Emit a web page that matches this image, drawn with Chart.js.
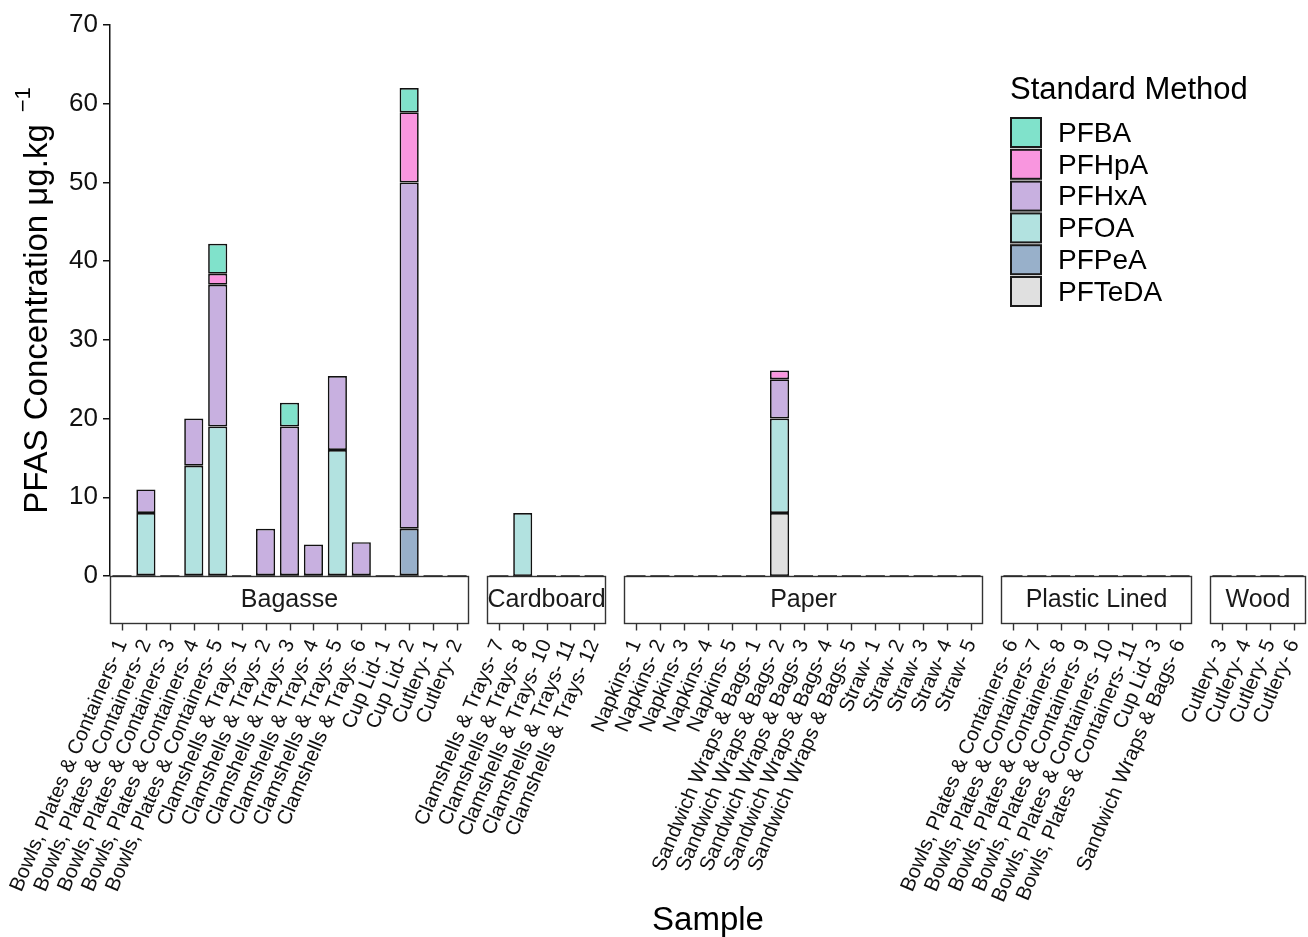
<!DOCTYPE html>
<html>
<head>
<meta charset="utf-8">
<title>PFAS concentration by sample</title>
<script src="https://cdn.jsdelivr.net/npm/chart.js@4.4.1/dist/chart.umd.min.js"></script>
<style>
  html, body { margin: 0; padding: 0; background: #ffffff; }
  #wrap { position: relative; width: 1308px; height: 937px; overflow: hidden; background: #ffffff; }
  #wrap canvas { position: absolute; left: 0; top: 0; pointer-events: none; }
</style>
</head>
<body>
<div id="wrap"></div>
<script>
// ---- data -------------------------------------------------------------
const materials = ['Bagasse', 'Cardboard', 'Paper', 'Plastic Lined', 'Wood'];

const bagasseSamples = [
  'Bowls, Plates & Containers- 1', 'Bowls, Plates & Containers- 2', 'Bowls, Plates & Containers- 3',
  'Bowls, Plates & Containers- 4', 'Bowls, Plates & Containers- 5',
  'Clamshells & Trays- 1', 'Clamshells & Trays- 2', 'Clamshells & Trays- 3',
  'Clamshells & Trays- 4', 'Clamshells & Trays- 5', 'Clamshells & Trays- 6',
  'Cup Lid- 1', 'Cup Lid- 2', 'Cutlery- 1', 'Cutlery- 2'
];
const cardboardSamples = [
  'Clamshells & Trays- 7', 'Clamshells & Trays- 8', 'Clamshells & Trays- 10',
  'Clamshells & Trays- 11', 'Clamshells & Trays- 12'
];
const paperSamples = [
  'Napkins- 1', 'Napkins- 2', 'Napkins- 3', 'Napkins- 4', 'Napkins- 5',
  'Sandwich Wraps & Bags- 1', 'Sandwich Wraps & Bags- 2', 'Sandwich Wraps & Bags- 3',
  'Sandwich Wraps & Bags- 4', 'Sandwich Wraps & Bags- 5',
  'Straw- 1', 'Straw- 2', 'Straw- 3', 'Straw- 4', 'Straw- 5'
];
const plasticLinedSamples = [
  'Bowls, Plates & Containers- 6', 'Bowls, Plates & Containers- 7', 'Bowls, Plates & Containers- 8',
  'Bowls, Plates & Containers- 9', 'Bowls, Plates & Containers- 10', 'Bowls, Plates & Containers- 11',
  'Cup Lid- 3', 'Sandwich Wraps & Bags- 6'
];
const woodSamples = ['Cutlery- 3', 'Cutlery- 4', 'Cutlery- 5', 'Cutlery- 6'];

// Concentrations (µg/kg), one value per sample in the order
// Bagasse | Cardboard | Paper | Plastic Lined | Wood
const PFBA = [
  0, 0, 0, 0, 3.8, 0, 0, 3, 0, 0, 0, 0, 3.1, 0, 0,
  0, 0, 0, 0, 0,
  0, 0, 0, 0, 0, 0, 0, 0, 0, 0, 0, 0, 0, 0, 0,
  0, 0, 0, 0, 0, 0, 0, 0,
  0, 0, 0, 0
];
const PFHpA = [
  0, 0, 0, 0, 1.4, 0, 0, 0, 0, 0, 0, 0, 8.9, 0, 0,
  0, 0, 0, 0, 0,
  0, 0, 0, 0, 0, 0, 1.1, 0, 0, 0, 0, 0, 0, 0, 0,
  0, 0, 0, 0, 0, 0, 0, 0,
  0, 0, 0, 0
];
const PFHxA = [
  0, 3, 0, 6, 18, 0, 6, 19, 4, 9.4, 4.3, 0, 44, 0, 0,
  0, 0, 0, 0, 0,
  0, 0, 0, 0, 0, 0, 5, 0, 0, 0, 0, 0, 0, 0, 0,
  0, 0, 0, 0, 0, 0, 0, 0,
  0, 0, 0, 0
];
const PFOA = [
  0, 8, 0, 14, 19, 0, 0, 0, 0, 16, 0, 0, 0, 0, 0,
  0, 8, 0, 0, 0,
  0, 0, 0, 0, 0, 0, 12, 0, 0, 0, 0, 0, 0, 0, 0,
  0, 0, 0, 0, 0, 0, 0, 0,
  0, 0, 0, 0
];
const PFPeA = [
  0, 0, 0, 0, 0, 0, 0, 0, 0, 0, 0, 0, 6, 0, 0,
  0, 0, 0, 0, 0,
  0, 0, 0, 0, 0, 0, 0, 0, 0, 0, 0, 0, 0, 0, 0,
  0, 0, 0, 0, 0, 0, 0, 0,
  0, 0, 0, 0
];
const PFTeDA = [
  0, 0, 0, 0, 0, 0, 0, 0, 0, 0, 0, 0, 0, 0, 0,
  0, 0, 0, 0, 0,
  0, 0, 0, 0, 0, 0, 8, 0, 0, 0, 0, 0, 0, 0, 0,
  0, 0, 0, 0, 0, 0, 0, 0,
  0, 0, 0, 0
];

const compoundNames = ['PFBA', 'PFHpA', 'PFHxA', 'PFOA', 'PFPeA', 'PFTeDA'];
const compoundValues = [PFBA, PFHpA, PFHxA, PFOA, PFPeA, PFTeDA];
const compoundColors = ['#80E2CB', '#F996DF', '#C8B0E0', '#B2E2E0', '#98B0CA', '#E0E0E0'];

const yTicks = [0, 10, 20, 30, 40, 50, 60, 70];

// ---- layout -----------------------------------------------------------
const W = 1308, H = 937;
const FONT = '"Liberation Sans", Arial, Helvetica, sans-serif';
const PLOT_TOP = 25, PLOT_BOTTOM = 576;
const STRIP_H = 47;
const BAR_FRACTION = 0.8;
const panelEdges = [[110, 469], [487, 606], [624, 983], [1001, 1192], [1210, 1306]];
const sampleGroups = [bagasseSamples, cardboardSamples, paperSamples, plasticLinedSamples, woodSamples];

// Facet strip, x tick marks and the outlines of empty bars
const facetStrip = {
  id: 'facetStrip',
  afterDraw(chart, args, opts) {
    const { ctx, chartArea: ca, scales } = chart;
    const x = scales.x;
    const top = ca.bottom;
    const n = chart.data.labels.length;
    ctx.save();
    // strip box
    ctx.fillStyle = '#ffffff';
    ctx.fillRect(ca.left, top, ca.right - ca.left, STRIP_H);
    ctx.strokeStyle = '#333333';
    ctx.lineWidth = 1.4;
    ctx.strokeRect(ca.left + 0.5, top + 0.5, ca.right - ca.left - 1, STRIP_H);
    ctx.fillStyle = '#1a1a1a';
    ctx.font = '25px ' + FONT;
    ctx.textAlign = 'center';
    ctx.textBaseline = 'middle';
    ctx.fillText(opts.title, (ca.left + ca.right) / 2, top + STRIP_H / 2 + 1);
    // tick marks under the strip
    ctx.strokeStyle = '#333333';
    ctx.lineWidth = 1.4;
    x.ticks.forEach((t, i) => {
      const px = Math.round(x.getPixelForTick(i)) + 0.5;
      ctx.beginPath();
      ctx.moveTo(px, top + STRIP_H + 0.5);
      ctx.lineTo(px, top + STRIP_H + 7.5);
      ctx.stroke();
    });
    // samples with nothing detected show as a flat outline at the baseline
    const y0 = chart.scales.y.getPixelForValue(0);
    const half = (ca.right - ca.left) / n * BAR_FRACTION / 2;
    ctx.strokeStyle = '#2a2a2a';
    ctx.lineWidth = 1.6;
    for (let i = 0; i < n; i++) {
      const cx = x.getPixelForValue(i);
      ctx.beginPath();
      ctx.moveTo(cx - half, y0);
      ctx.lineTo(cx + half, y0);
      ctx.stroke();
    }
    ctx.restore();
  }
};

// Axis titles and the legend, drawn once on the first panel's canvas
const frameDecor = {
  id: 'frameDecor',
  afterDraw(chart) {
    const ctx = chart.ctx;
    ctx.save();
    ctx.fillStyle = '#000000';
    // y axis title with superscript unit exponent
    const main = 'PFAS Concentration μg.kg';
    const sup = '−1';
    ctx.font = '33px ' + FONT;
    const wMain = ctx.measureText(main).width;
    ctx.font = '22px ' + FONT;
    const wSup = ctx.measureText(sup).width;
    const gap = 12;
    const total = wMain + gap + wSup;
    const centerY = (PLOT_TOP + PLOT_BOTTOM) / 2;
    ctx.translate(47, centerY + total / 2);
    ctx.rotate(-Math.PI / 2);
    ctx.textAlign = 'left';
    ctx.textBaseline = 'alphabetic';
    ctx.font = '33px ' + FONT;
    ctx.fillText(main, 0, 0);
    ctx.font = '22px ' + FONT;
    ctx.fillText(sup, wMain + gap, -17);
    ctx.setTransform(1, 0, 0, 1, 0, 0);

    // x axis title
    ctx.font = '33px ' + FONT;
    ctx.textAlign = 'center';
    ctx.fillText('Sample', (panelEdges[0][0] + panelEdges[4][1]) / 2, 930);

    // legend
    ctx.textAlign = 'left';
    ctx.font = '31px ' + FONT;
    ctx.fillText('Standard Method', 1010, 99);
    ctx.font = '28px ' + FONT;
    ctx.textBaseline = 'middle';
    compoundNames.forEach((name, i) => {
      const top = 118 + i * 31.8;
      ctx.fillStyle = compoundColors[i];
      ctx.fillRect(1011, top, 30, 29);
      ctx.strokeStyle = '#1a1a1a';
      ctx.lineWidth = 2;
      ctx.strokeRect(1011, top, 30, 29);
      ctx.fillStyle = '#000000';
      ctx.fillText(name, 1058, top + 16);
    });
    ctx.restore();
  }
};

// ---- charts: one canvas per facet, all overlaid on the same page area --
const wrap = document.getElementById('wrap');
let offset = 0;
materials.forEach((material, p) => {
  const labels = sampleGroups[p];
  const n = labels.length;
  const [left, right] = panelEdges[p];
  const first = p === 0;

  const canvas = document.createElement('canvas');
  canvas.width = W;
  canvas.height = H;
  canvas.style.width = W + 'px';
  canvas.style.height = H + 'px';
  wrap.appendChild(canvas);

  // stacked bottom-to-top in reverse legend order; undetected = no segment
  const datasets = compoundNames.map((name, i) => ({
    label: name,
    data: compoundValues[i].slice(offset, offset + n).map(v => (v === 0 ? null : v)),
    backgroundColor: compoundColors[i],
    borderColor: '#111111',
    borderWidth: 1.7,
    borderSkipped: false,
    barPercentage: BAR_FRACTION,
    categoryPercentage: 1.0,
    stack: 'total'
  })).reverse();
  offset += n;

  new Chart(canvas, {
    type: 'bar',
    data: { labels, datasets },
    options: {
      responsive: false,
      animation: false,
      devicePixelRatio: 1,
      layout: {
        padding: { left: first ? 0 : left, right: W - right, top: PLOT_TOP, bottom: 0 }
      },
      plugins: {
        legend: { display: false },
        tooltip: { enabled: false },
        facetStrip: { title: material }
      },
      scales: {
        x: {
          stacked: true,
          offset: true,
          grid: { display: false, drawTicks: false },
          border: { display: false },
          ticks: {
            autoSkip: false,
            minRotation: 67,
            maxRotation: 67,
            padding: 60,
            color: '#111111',
            font: { family: FONT, size: 20.5 }
          },
          afterFit(scale) {
            scale.height = H - PLOT_BOTTOM;
            scale.paddingLeft = 0;
            scale.paddingRight = 0;
          }
        },
        y: {
          stacked: true,
          display: first,
          min: 0,
          max: 70,
          afterBuildTicks(scale) {
            scale.ticks = yTicks.map(v => ({ value: v }));
          },
          grid: { drawOnChartArea: false, drawTicks: true, tickLength: 7, color: '#111111', lineWidth: 1.5 },
          border: { display: true, color: '#111111', width: 1.5 },
          ticks: {
            padding: 5,
            color: '#111111',
            font: { family: FONT, size: 26 }
          },
          afterFit(scale) {
            scale.width = first ? panelEdges[0][0] : 0;
            scale.paddingTop = 0;
            scale.paddingBottom = 0;
          }
        }
      }
    },
    plugins: first ? [facetStrip, frameDecor] : [facetStrip]
  });
});
</script>
</body>
</html>
